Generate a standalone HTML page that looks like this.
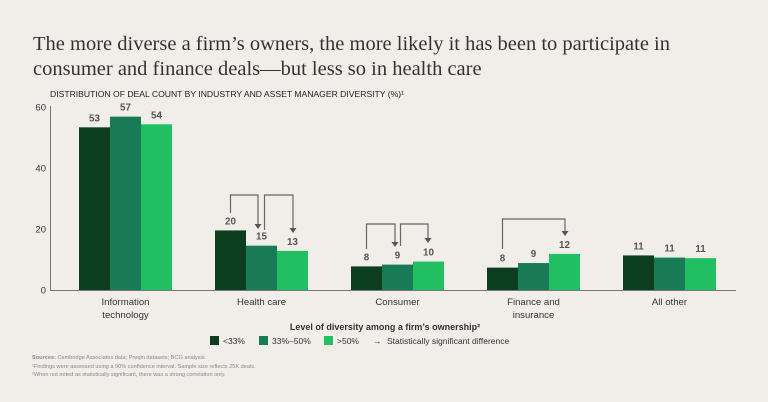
<!DOCTYPE html>
<html><head><meta charset="utf-8"><style>
body{margin:0;background:#f1eeea;width:768px;height:402px;overflow:hidden;font-family:"Liberation Sans",sans-serif}
svg{display:block}
</style></head><body>
<svg id="c" width="768" height="402" xmlns="http://www.w3.org/2000/svg">
<rect width="768" height="402" fill="#f1eeea"/>
<text x="33" y="50" font-family="Liberation Serif,serif" font-size="20.5" fill="#333">The more diverse a firm’s owners, the more likely it has been to participate in</text>
<text x="33" y="75" font-family="Liberation Serif,serif" font-size="20.5" fill="#333">consumer and finance deals—but less so in health care</text>
<text x="50" y="97" font-size="8.6" fill="#222">DISTRIBUTION OF DEAL COUNT BY INDUSTRY AND ASSET MANAGER DIVERSITY (%)¹</text>
<g id="plot"></g>
<text x="385" y="330" text-anchor="middle" font-size="9" font-weight="bold" fill="#333">Level of diversity among a firm’s ownership²</text>
<g font-size="8.5" fill="#333">
<rect x="210" y="336" width="9" height="9" fill="#0d3d1f"/><text x="223" y="344">&lt;33%</text>
<rect x="259" y="336" width="9" height="9" fill="#197a56"/><text x="272" y="344">33%–50%</text>
<rect x="324" y="336" width="9" height="9" fill="#21bf61"/><text x="337" y="344">&gt;50%</text>
<text x="373" y="344">→</text><text x="387" y="344">Statistically significant difference</text>
</g>
<g font-size="5.6" fill="#888">
<text x="32" y="359"><tspan font-weight="bold">Sources:</tspan> Cambridge Associates data; Preqin datasets; BCG analysis.</text>
<text x="32" y="368">¹Findings were assessed using a 90% confidence interval. Sample size reflects 25K deals.</text>
<text x="32" y="376">²When not noted as statistically significant, there was a strong correlation only.</text>
</g>
</svg>
<script>
const categories=["Information|technology","Health care","Consumer","Finance and|insurance","All other"];
const low=[53.5,19.7,7.9,7.5,11.5];
const mid=[57,14.7,8.5,9,10.8];
const high=[54.5,13,9.5,12,10.6];
const lowLabels=["53","20","8","8","11"];
const midLabels=["57","15","9","9","11"];
const highLabels=["54","13","10","12","11"];
const yTicks=[0,20,40,60];
const NS="http://www.w3.org/2000/svg";
const g=document.getElementById('plot');
const y0=290.5,yScale=3.05;
const y=v=>y0-v*yScale;
const gx=i=>125.5+136*i;
const bw=31;
function mk(t,a){const e=document.createElementNS(NS,t);for(const k in a)e.setAttribute(k,a[k]);g.appendChild(e);return e;}
yTicks.forEach(t=>{const e=mk('text',{x:46,y:y(t)+3,'text-anchor':'end','font-size':9.5,fill:'#333'});e.textContent=t;

});
const series=[[low,lowLabels,'#0d3d1f','low'],[mid,midLabels,'#197a56','mid'],[high,highLabels,'#21bf61','high']];
categories.forEach((c,i)=>{
 series.forEach(([vals,labs,col,nm],j)=>{
  const x=gx(i)-1.5*bw+j*bw;
  const r=mk('rect',{x:x,y:y(vals[i]),width:bw,height:vals[i]*yScale,fill:col});
  
  
  const t=mk('text',{x:x+bw/2,y:y(vals[i])-6,'text-anchor':'middle','font-size':9.8,'font-weight':'bold',fill:'#555'});
  t.textContent=labs[i];
  
  
 });
 c.split('|').forEach((ln,k)=>{const t=mk('text',{x:gx(i),y:305+k*13,'text-anchor':'middle','font-size':9.6,fill:'#333'});t.textContent=ln;
 
 });
});
const ax=mk('path',{d:`M50.5,106V${y0}H736`,stroke:'#777',fill:'none','stroke-width':1});


const brackets=[[230.5,213,195,258,229],[264.5,230,195,293,233],[366.5,249,224,395,247],[400.5,246,224,428,243],[502.5,249,219,565,236]];
brackets.forEach((b,i)=>{
 const p=mk('path',{d:`M${b[0]},${b[1]}V${b[2]}H${b[3]}V${b[4]-4}`,stroke:'#666',fill:'none','stroke-width':1.2});
 
 
 const a=mk('path',{d:`M${b[3]-3.5},${b[4]-5}H${b[3]+3.5}L${b[3]},${b[4]}Z`,fill:'#555'});
 
 
});
</script>
</body></html>
